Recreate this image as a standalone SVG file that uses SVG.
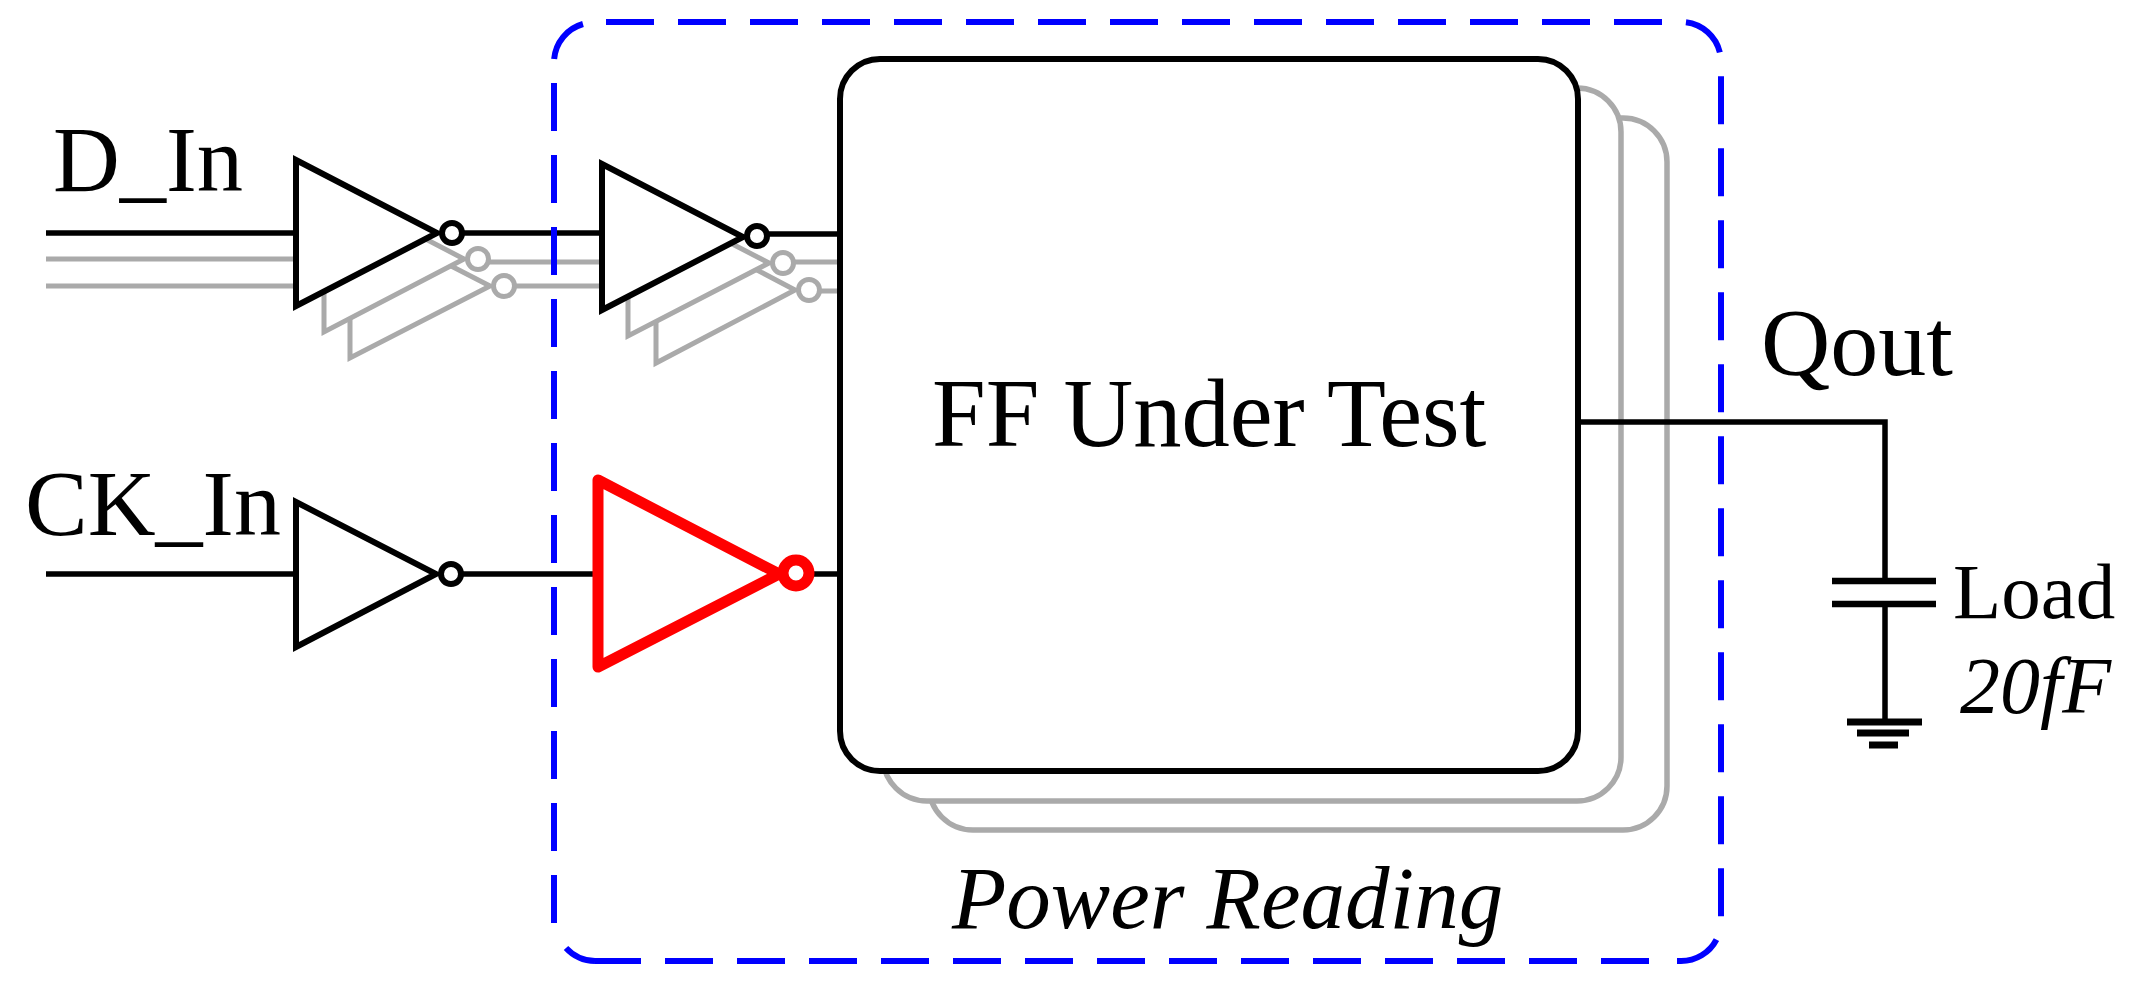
<svg xmlns="http://www.w3.org/2000/svg" width="2134" height="995" viewBox="0 0 2134 995">
<style>
text{font-family:"Liberation Serif","Times New Roman",serif;fill:#000}
.i{font-style:italic}
.w{fill:none;stroke:#000;stroke-width:5.5}
.g{fill:none;stroke:#aaa;stroke-width:5}
.gi{fill:#fff;stroke:#aaa;stroke-width:5;stroke-linejoin:miter}
.bi{fill:#fff;stroke:#000;stroke-width:6;stroke-linejoin:miter}
.ri{fill:#fff;stroke:#f00;stroke-width:11;stroke-linejoin:round}
.bl{fill:#fff;stroke:#000;stroke-width:6}
.gb{fill:#fff;stroke:#aaa;stroke-width:5.5}
.d{fill:none;stroke:#00f;stroke-width:6;stroke-dasharray:48 24}
.ds{fill:none;stroke:#00f;stroke-width:6}
</style>
<rect width="2134" height="995" fill="#fff"/>
<g id="input-connectors">
<path class="g" d="M46 259H296M46 286H296M488 262H602M514 286H602M793 262H840M819 291H840"/>
<path class="w" d="M46 233H296M462 233H602M767 234H840M46 574H296M461 574H598M810 574H840"/>
</g>
<g id="d-buffer-1">
<path class="gi" d="M350 214V358L490 286Z"/><circle class="gi" cx="504" cy="286" r="10.5"/>
<path class="gi" d="M324 186V332L464 259Z"/><circle class="gi" cx="478" cy="259" r="10.5"/>
<path class="bi" d="M296 160V306L437 233Z"/><circle class="bi" cx="452" cy="233" r="10"/>
</g>
<g id="d-buffer-2">
<path class="gi" d="M656 217V363L795 290Z"/><circle class="gi" cx="809" cy="290" r="10.5"/>
<path class="gi" d="M628 190V336L769 263Z"/><circle class="gi" cx="783" cy="263" r="10.5"/>
<path class="bi" d="M602 164V310L743 237Z"/><circle class="bi" cx="757" cy="236" r="10"/>
</g>
<g id="ck-buffer-1">
<path class="bi" d="M296 502V647L436 574Z"/><circle class="bi" cx="451" cy="574" r="10"/>
</g>
<g id="ck-buffer-2">
<path class="ri" d="M598 480V667L779 574Z"/><circle class="ri" cx="796" cy="573" r="13"/>
</g>
<g id="ff-under-test">
<rect class="gb" x="929" y="118" width="738" height="712" rx="44"/>
<rect class="gb" x="883" y="88" width="738" height="713" rx="44"/>
<rect class="bl" x="840" y="59" width="738" height="712" rx="40"/>
<text x="932" y="446" font-size="96.5">FF Under Test</text>
</g>
<g id="output-connectors">
<path class="w" d="M1578 422H1885V581M1885 604V722"/>
</g>
<g id="load-cap">
<path fill="none" stroke="#000" stroke-width="6.5" d="M1832 581H1936M1832 604H1936"/>
<path fill="none" stroke="#000" stroke-width="7" d="M1847 722H1922M1857 733H1909M1869 745H1898"/>
<text x="1953" y="618" font-size="79">Load</text>
<text class="i" x="1960" y="713" font-size="80">20fF</text>
</g>
<g id="power-reading">
<path class="d" d="M606 22H1681A40 40 0 0 1 1721 62V921A40 40 0 0 1 1681 961H1677"/>
<path class="d" d="M1649 961H595"/>
<path class="ds" d="M595 961A40 40 0 0 1 566 948"/>
<path class="d" d="M554 923V62A40 40 0 0 1 583 24"/>
<text class="i" x="952" y="928" font-size="89">Power Reading</text>
</g>
<g id="labels">
<text x="53" y="191" font-size="92.5">D_In</text>
<text x="25" y="535" font-size="94">CK_In</text>
<text x="1761" y="375" font-size="96">Qout</text>
</g>
</svg>
